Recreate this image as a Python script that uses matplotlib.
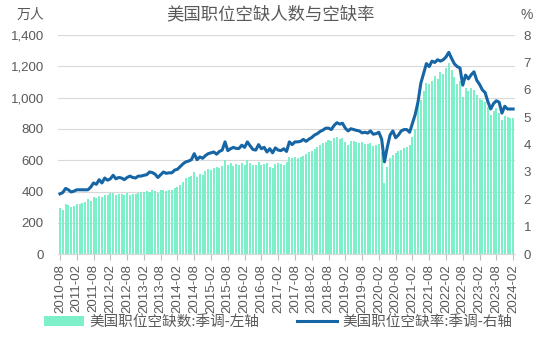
import matplotlib
matplotlib.use("Agg")
import matplotlib.pyplot as plt
import pandas as pd

plt.rcParams['font.family'] = ['Liberation Sans', 'Noto Sans CJK SC', 'DejaVu Sans']

# months 2010-08 .. 2024-02
months = pd.period_range('2010-08', '2024-02', freq='M').strftime('%Y-%m').tolist()

# job openings, 万人 (SA)
openings = [
    294, 282, 318, 312, 303,
    310, 322, 318, 326, 330, 352, 340, 365, 358, 370, 362, 375,
    380, 392, 388, 378, 385, 382, 376, 388, 380, 386, 384, 392,
    396, 398, 404, 400, 408, 406, 388, 408, 413, 405, 410, 408,
    420, 430, 441, 462, 484, 490, 500, 526, 496, 512, 505, 533,
    541, 535, 548, 558, 550, 566, 601, 572, 580, 565, 575, 570,
    585, 572, 601, 580, 568, 572, 586, 568, 576, 582, 560, 548,
    578, 585, 575, 570, 590, 618, 612, 618, 614, 622, 630, 640,
    654, 662, 675, 684, 697, 708, 718, 729, 722, 740, 750, 735,
    742, 718, 697, 720, 722, 718, 712, 718, 705, 702, 710, 690,
    697, 702, 654, 452, 558, 614, 635, 649, 660, 665, 681, 686,
    700, 750, 800, 962, 985, 1040, 1091, 1085, 1105, 1140, 1120, 1165,
    1150, 1190, 1220, 1180, 1130, 1090, 1105, 1005, 1065, 1040, 1060, 1050,
    1020, 990, 985, 975, 940, 889, 915, 933, 905, 857, 880, 876,
    872, 870,
]

# job openings rate, % (SA)
rate = [
    2.20, 2.25, 2.40, 2.35, 2.27,
    2.30, 2.35, 2.35, 2.35, 2.35, 2.35, 2.45, 2.60, 2.55, 2.72, 2.60, 2.78,
    2.70, 2.75, 2.88, 2.75, 2.80, 2.78, 2.72, 2.80, 2.85, 2.80, 2.78, 2.85,
    2.85, 2.88, 2.90, 3.00, 2.98, 2.92, 2.80, 2.90, 3.00, 2.95, 2.97, 2.97,
    3.07, 3.10, 3.20, 3.30, 3.37, 3.40, 3.45, 3.67, 3.45, 3.55, 3.50, 3.60,
    3.67, 3.70, 3.73, 3.65, 3.75, 3.80, 4.10, 3.78, 3.85, 3.90, 3.86, 3.86,
    3.98, 3.90, 4.10, 3.95, 3.82, 3.80, 4.00, 3.85, 3.90, 3.73, 3.85, 3.70,
    3.88, 3.80, 3.78, 3.85, 3.75, 4.10, 4.00, 4.10, 4.10, 4.12, 4.19, 4.12,
    4.20, 4.26, 4.35, 4.40, 4.48, 4.53, 4.60, 4.60, 4.55, 4.70, 4.80, 4.75,
    4.78, 4.60, 4.50, 4.58, 4.55, 4.52, 4.50, 4.43, 4.45, 4.42, 4.50, 4.38,
    4.40, 4.45, 4.20, 3.37, 3.90, 4.35, 4.50, 4.25, 4.35, 4.50, 4.55, 4.55,
    4.45, 4.77, 5.10, 5.56, 6.24, 6.60, 6.96, 6.85, 7.05, 7.00, 7.10, 7.05,
    7.10, 7.20, 7.37, 7.15, 6.95, 6.85, 6.80, 6.17, 6.54, 6.40, 6.55, 6.66,
    6.35, 6.20, 6.00, 5.90, 5.56, 5.30, 5.50, 5.60, 5.55, 5.15, 5.40, 5.30,
    5.30, 5.30,
]

bar_color = '#7DEFC9'
line_color = '#1666A6'
txt = '#595959'
cjk = ['Noto Sans CJK SC', 'DejaVu Sans']

fig = plt.figure(figsize=(5.5, 3.51), dpi=100)
ax = fig.add_axes([0.105, 0.276, 0.832, 0.624])
x = list(range(len(months)))

bars = ax.bar(x, openings, width=0.72, color=bar_color, zorder=2)
ax.set_xlim(-0.8, len(months) - 0.2)
ax.set_ylim(0, 1400)
ax.set_yticks(range(0, 1401, 200))
ax.set_yticklabels([f'{v:,}' for v in range(0, 1401, 200)])
ax.grid(axis='y', color='#d9d9d9', lw=0.8)
ax.set_axisbelow(True)
for s in ['top', 'right', 'left']:
    ax.spines[s].set_visible(False)
ax.spines['bottom'].set_color('#d9d9d9')
ax.tick_params(axis='y', length=0, pad=10, labelsize=9.5, labelcolor=txt)
ax.set_xticks(x[::6])
ax.set_xticklabels(months[::6], rotation=90)
ax.tick_params(axis='x', length=4, color='#bfbfbf', pad=3, labelsize=9.5, labelcolor=txt)

ax2 = ax.twinx()
line, = ax2.plot(x, rate, color=line_color, lw=2.2, zorder=3)
ax2.set_ylim(0, 8)
ax2.set_yticks(range(0, 9))
for s in ['top', 'right', 'left', 'bottom']:
    ax2.spines[s].set_visible(False)
ax2.tick_params(axis='y', length=0, pad=6, labelsize=9.5, labelcolor=txt)

fig.text(0.491, 0.958, '美国职位空缺人数与空缺率', ha='center', va='center',
         fontsize=12.5, color=txt, family=cjk)
fig.text(0.08, 0.957, '万人', ha='right', va='center', fontsize=10, color=txt, family=cjk)
fig.text(0.958, 0.957, '%', ha='center', va='center', fontsize=10, color=txt)

leg = fig.legend([bars, line], ['美国职位空缺数:季调-左轴', '美国职位空缺率:季调-右轴'],
                 loc='center', bbox_to_anchor=(0.506, 0.082), ncol=2, frameon=False,
                 handlelength=2.7, columnspacing=2.6, handletextpad=0.4,
                 prop={'family': cjk, 'size': 10.5})
for t in leg.get_texts():
    t.set_color(txt)

fig.savefig('out.png', dpi=100)
